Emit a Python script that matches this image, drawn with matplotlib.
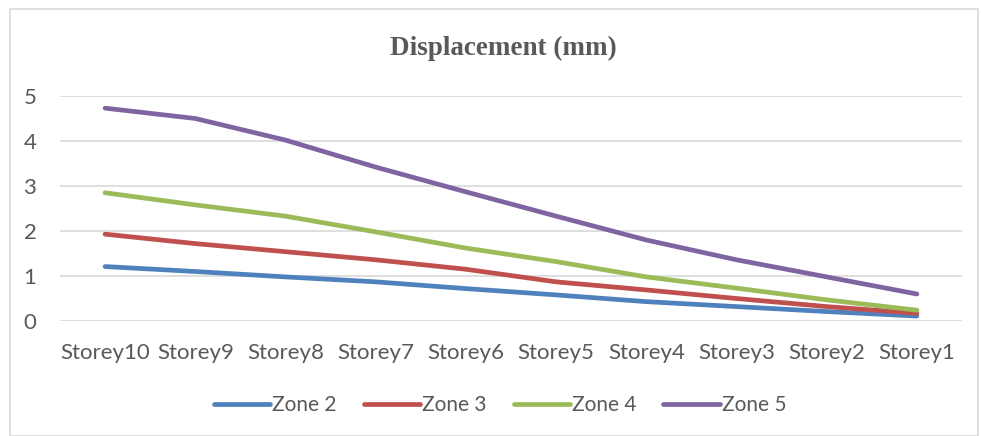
import matplotlib.pyplot as plt
from matplotlib.patches import Rectangle

# Data
storeys = ['Storey10', 'Storey9', 'Storey8', 'Storey7', 'Storey6',
           'Storey5', 'Storey4', 'Storey3', 'Storey2', 'Storey1']
zone2 = [1.21, 1.10, 0.98, 0.87, 0.72, 0.58, 0.43, 0.32, 0.21, 0.11]
zone3 = [1.93, 1.72, 1.54, 1.36, 1.15, 0.87, 0.69, 0.50, 0.32, 0.17]
zone4 = [2.85, 2.58, 2.33, 1.98, 1.62, 1.32, 0.98, 0.73, 0.47, 0.24]
zone5 = [4.73, 4.50, 4.02, 3.42, 2.87, 2.33, 1.80, 1.36, 0.98, 0.60]

series = [('Zone 2', zone2, '#4F81BD'),
          ('Zone 3', zone3, '#C0504D'),
          ('Zone 4', zone4, '#9BBB59'),
          ('Zone 5', zone5, '#8064A2')]

text_col = '#595959'
plt.rcParams['font.family'] = ['Lato', 'DejaVu Sans']

fig = plt.figure(figsize=(9.81, 4.36), dpi=100)
ax = fig.add_axes([60 / 981, 1 - 321 / 436, 902 / 981, 225 / 436])

x = range(len(storeys))
for name, vals, col in series:
    ax.plot(x, vals, color=col, linewidth=3.4, label=name, solid_capstyle='round')

ax.set_xlim(-0.5, len(storeys) - 0.5)
ax.set_ylim(0, 5)
ax.set_yticks(range(6))
ax.set_xticks(list(x))
ax.set_xticklabels(storeys)
ax.grid(axis='y', color='#D9D9D9', linewidth=1.2)
ax.set_axisbelow(True)
for s in ax.spines.values():
    s.set_visible(False)
ax.tick_params(axis='both', length=0, labelsize=16, colors=text_col)
ax.tick_params(axis='y', pad=17)
ax.tick_params(axis='x', pad=16)

fig.text(503 / 981, 1 - 48 / 436, 'Displacement (mm)', ha='center', va='center',
         fontsize=19.5, fontweight='bold', color=text_col, family='Liberation Serif')

fig.legend(loc='center', bbox_to_anchor=(500 / 981, 1 - 405 / 436), ncol=4,
           frameon=False, fontsize=15, handlelength=2.7, columnspacing=1.3,
           handletextpad=0.1, labelcolor=text_col)

fig.patches.append(Rectangle((10 / 981, 0), 968 / 981, 1 - 9 / 436,
                             transform=fig.transFigure, fill=False,
                             edgecolor='#D9D9D9', linewidth=1.2))

fig.savefig('out.png', dpi=100)
